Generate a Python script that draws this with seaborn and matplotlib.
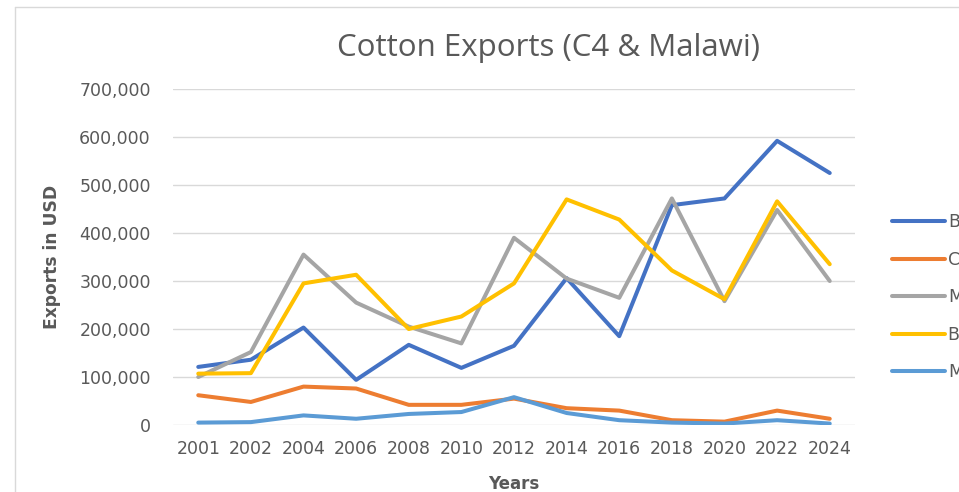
import matplotlib
matplotlib.use("Agg")
import matplotlib.pyplot as plt
import seaborn as sns
import pandas as pd
from matplotlib.lines import Line2D
from matplotlib.ticker import FuncFormatter

years = ["2001", "2002", "2004", "2006", "2008", "2010", "2012",
         "2014", "2016", "2018", "2020", "2022", "2024"]
benin = [121000, 136000, 203000, 94000, 167000, 119000, 165000,
         306000, 185000, 458000, 472000, 592000, 525000]
chad = [62000, 48000, 80000, 76000, 42000, 42000, 55000,
        35000, 30000, 10000, 7000, 30000, 13000]
mali = [100000, 152000, 355000, 255000, 205000, 170000, 390000,
        305000, 265000, 472000, 258000, 448000, 300000]
burkina = [107000, 108000, 295000, 313000, 200000, 226000, 295000,
           470000, 428000, 322000, 262000, 466000, 335000]
malawi = [5000, 6000, 20000, 13000, 23000, 27000, 58000,
          25000, 10000, 5000, 3000, 10000, 3000]

countries = ["Benin", "Chad", "Mali", "Burkina Faso", "Malawi"]
series = [benin, chad, mali, burkina, malawi]
colors = ["#4472C4", "#ED7D31", "#A5A5A5", "#FFC000", "#5B9BD5"]

rows = []
for c, vals in zip(countries, series):
    for y, v in zip(years, vals):
        rows.append({"Years": y, "Exports": v, "Country": c})
df = pd.DataFrame(rows)

sns.set_theme(style="white")
plt.rcParams["font.family"] = ["DejaVu Sans"]

fig = plt.figure(figsize=(9.59, 4.92), dpi=100)
ax = fig.add_axes([173 / 959, 67 / 492, 682 / 959, 336 / 492])

sns.lineplot(data=df, x="Years", y="Exports", hue="Country",
             hue_order=countries, palette=colors, linewidth=2.9,
             ax=ax, sort=False)

ax.set_ylim(0, 700000)
ax.set_xlim(-0.48, 12.48)
ax.set_yticks(range(0, 700001, 100000))
ax.yaxis.set_major_formatter(FuncFormatter(lambda v, p: f"{int(v):,}"))
ax.grid(axis="y", color="#D9D9D9", linewidth=1)
ax.grid(axis="x", visible=False)
for s in ax.spines.values():
    s.set_visible(False)
ax.tick_params(axis="both", length=0, labelsize=12.5, colors="#595959")
ax.tick_params(axis="y", pad=16)
ax.tick_params(axis="x", pad=11)

ax.set_title("Cotton Exports (C4 & Malawi)", fontsize=22.5, color="#595959",
             pad=24, x=0.551, family=["Open Sans", "DejaVu Sans"])
ax.set_xlabel("Years", fontsize=12, fontweight="bold", color="#595959",
              labelpad=12)
ax.set_ylabel("Exports in USD", fontsize=12.3, fontweight="bold",
              color="#595959", labelpad=13)

leg = ax.legend(loc="upper left", bbox_to_anchor=(892 / 959, 1 - 213 / 492),
                bbox_transform=fig.transFigure, frameon=False,
                fontsize=12.5, handlelength=3.05, handletextpad=0.17,
                labelspacing=1.13, borderpad=0, borderaxespad=0,
                labelcolor="#595959")
for h in leg.get_lines():
    h.set_linewidth(2.9)

fig.add_artist(Line2D([15 / 959, 15 / 959], [0, 1 - 7 / 492],
                      transform=fig.transFigure, color="#D9D9D9", lw=1))
fig.add_artist(Line2D([15 / 959, 1], [1 - 7 / 492, 1 - 7 / 492],
                      transform=fig.transFigure, color="#D9D9D9", lw=1))

fig.savefig("out.png", dpi=100)
